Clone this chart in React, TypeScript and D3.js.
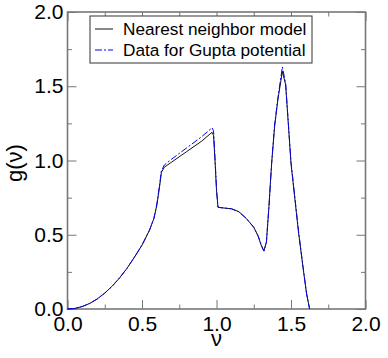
//phonon density of states chart: nearest neighbor model vs Gupta potential data
import * as d3 from 'd3';
import React, { useEffect, useRef } from 'react';

// frequency values (nu) shared by both series
const nu = [
  0, 0.05, 0.1, 0.15, 0.2, 0.25, 0.3, 0.35, 0.4, 0.45, 0.5, 0.55, 0.58, 0.6,
  0.62, 0.63, 0.65, 0.7, 0.8, 0.9, 0.97, 0.98, 0.99, 1.0, 1.01, 1.05, 1.1,
  1.15, 1.2, 1.25, 1.28, 1.3, 1.318, 1.335, 1.352, 1.37, 1.39, 1.412, 1.442,
  1.464, 1.5, 1.55, 1.58, 1.605, 1.625
];

// nearest neighbor model (black solid line)
const gNearest = [
  0, 0.004, 0.017, 0.038, 0.068, 0.107, 0.154, 0.21, 0.275, 0.35, 0.43, 0.53,
  0.61, 0.7, 0.84, 0.92, 0.955, 0.99, 1.06, 1.13, 1.19, 1.17, 1.0, 0.8, 0.685,
  0.68, 0.675, 0.655, 0.61, 0.55, 0.49, 0.43, 0.39, 0.45, 0.69, 0.98, 1.23,
  1.41, 1.6, 1.51, 0.98, 0.52, 0.285, 0.1, 0
];

// data for the Gupta potential (blue dash-dot line)
const gGupta = [
  0, 0.004, 0.017, 0.038, 0.068, 0.107, 0.154, 0.21, 0.275, 0.35, 0.43, 0.53,
  0.61, 0.71, 0.85, 0.93, 0.97, 1.01, 1.085, 1.16, 1.22, 1.2, 1.02, 0.81,
  0.685, 0.68, 0.675, 0.655, 0.61, 0.55, 0.49, 0.43, 0.39, 0.45, 0.69, 0.98,
  1.24, 1.42, 1.63, 1.52, 0.99, 0.53, 0.29, 0.1, 0
];

const majorTicks = [0, 0.5, 1, 1.5, 2];
const minorTicks = [0.25, 0.75, 1.25, 1.75];
const legendLabels = ['Nearest neighbor model', 'Data for Gupta potential'];

const FONT = "'Liberation Sans', Arial, Helvetica, sans-serif";

const App = () => {
  const svgRef = useRef(null);

  useEffect(() => {
    const svg = d3.select(svgRef.current);
    svg.selectAll('*').remove();

    //plot area bounds
    const left = 67.5;
    const right = 365.5;
    const top = 12;
    const bottom = 309;

    const x = d3.scaleLinear().domain([0, 2]).range([left, right]);
    const y = d3.scaleLinear().domain([0, 2]).range([bottom, top]);

    const fmt = d3.format('.1f');

    //major + minor ticks on all four sides, pointing inward
    const addAxis = (axis, transform, labels) => {
      const g = svg.append('g').attr('transform', transform).call(axis);
      g.select('.domain').remove();
      g.selectAll('.tick line').attr('stroke', '#777').attr('stroke-width', 1);
      g.selectAll('.tick text')
        .attr('fill', '#000')
        .attr('font-family', FONT)
        .attr('font-size', 21);
      if (!labels) g.selectAll('.tick text').remove();
      return g;
    };

    addAxis(
      d3.axisBottom(x).tickValues(majorTicks).tickSize(-9).tickPadding(7).tickFormat(fmt),
      `translate(0, ${bottom})`,
      true
    );
    addAxis(d3.axisBottom(x).tickValues(minorTicks).tickSize(-4.5), `translate(0, ${bottom})`, false);
    addAxis(d3.axisTop(x).tickValues(majorTicks).tickSize(-9), `translate(0, ${top})`, false);
    addAxis(d3.axisTop(x).tickValues(minorTicks).tickSize(-4.5), `translate(0, ${top})`, false);
    addAxis(
      d3.axisLeft(y).tickValues(majorTicks).tickSize(-9).tickPadding(4).tickFormat(fmt),
      `translate(${left}, 0)`,
      true
    );
    addAxis(d3.axisLeft(y).tickValues(minorTicks).tickSize(-4.5), `translate(${left}, 0)`, false);
    addAxis(d3.axisRight(y).tickValues(majorTicks).tickSize(-9), `translate(${right}, 0)`, false);
    addAxis(d3.axisRight(y).tickValues(minorTicks).tickSize(-4.5), `translate(${right}, 0)`, false);

    //the frame around the plot
    svg
      .append('rect')
      .attr('x', left)
      .attr('y', top)
      .attr('width', right - left)
      .attr('height', bottom - top)
      .attr('fill', 'none')
      .attr('stroke', '#777')
      .attr('stroke-width', 1.6);

    const line = d3
      .line()
      .x((d) => x(d[0]))
      .y((d) => y(d[1]));

    svg
      .append('path')
      .datum(nu.map((v, i) => [v, gNearest[i]]))
      .attr('d', line)
      .attr('fill', 'none')
      .attr('stroke', '#111')
      .attr('stroke-width', 1);

    svg
      .append('path')
      .datum(nu.map((v, i) => [v, gGupta[i]]))
      .attr('d', line)
      .attr('fill', 'none')
      .attr('stroke', '#0000ff')
      .attr('stroke-width', 1)
      .attr('stroke-dasharray', '7,2,2,2');

    //legend box
    const legend = svg.append('g');
    legend
      .append('rect')
      .attr('x', 90)
      .attr('y', 16)
      .attr('width', 222)
      .attr('height', 47)
      .attr('fill', '#fff')
      .attr('stroke', '#333')
      .attr('stroke-width', 1);

    const styles = [
      { stroke: '#111', dash: null },
      { stroke: '#0000ff', dash: '7,2,2,2' }
    ];
    legendLabels.forEach((label, i) => {
      const ly = 29 + i * 21;
      legend
        .append('line')
        .attr('x1', 95)
        .attr('x2', 113)
        .attr('y1', ly)
        .attr('y2', ly)
        .attr('stroke', styles[i].stroke)
        .attr('stroke-width', 1)
        .attr('stroke-dasharray', styles[i].dash);
      legend
        .append('text')
        .attr('x', 123)
        .attr('y', ly + 5.5)
        .attr('font-family', FONT)
        .attr('font-size', 17.2)
        .attr('fill', '#000')
        .text(label);
    });

    //axis titles
    svg
      .append('text')
      .attr('x', (left + right) / 2)
      .attr('y', 346)
      .attr('text-anchor', 'middle')
      .attr('font-family', FONT)
      .attr('font-size', 22)
      .text('ν');

    svg
      .append('text')
      .attr('transform', `translate(22, 163) rotate(-90)`)
      .attr('text-anchor', 'middle')
      .attr('font-family', FONT)
      .attr('font-size', 22)
      .text('g(ν)');
  }, []);

  return (
    <svg
      ref={svgRef}
      width={388}
      height={358}
      style={{ position: 'absolute', left: 0, top: 0, background: '#fff' }}
    ></svg>
  );
};

export default App;
